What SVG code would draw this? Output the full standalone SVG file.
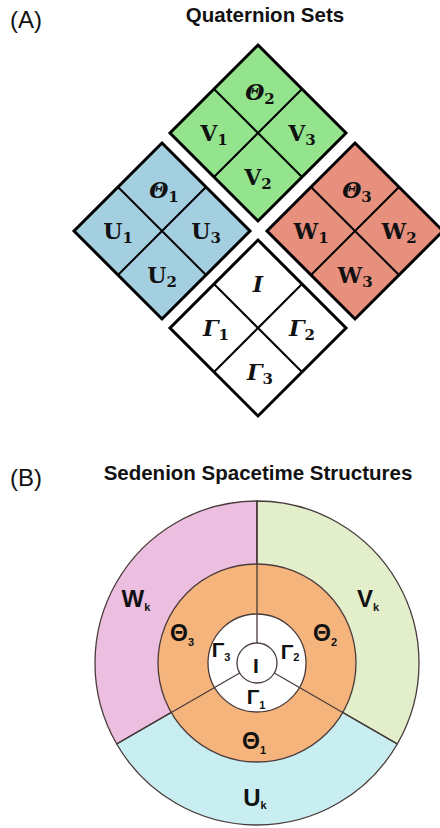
<svg xmlns="http://www.w3.org/2000/svg" width="440" height="828" viewBox="0 0 440 828">
<style>
.panel{font-family:"Liberation Sans",Arial,sans-serif;font-size:24px;fill:#111}
.title{font-family:"Liberation Sans",Arial,sans-serif;font-size:20.5px;font-weight:bold;fill:#111}
.dia{stroke:#000;stroke-width:3;stroke-linejoin:miter}
.div{stroke:#000;stroke-width:2;fill:none}
.ql{font-family:"DejaVu Serif","Liberation Serif",serif;font-size:22px;font-weight:bold;fill:#111;text-anchor:middle}
.it{font-style:italic}
.sub{font-size:15px;font-style:normal}
.ring{stroke:#4a3b3b;stroke-width:1.3}
.sl{font-family:"Liberation Sans",Arial,sans-serif;font-weight:bold;fill:#111;text-anchor:middle}
.sl .s{font-size:11px}
</style>

<text class="panel" x="10" y="28">(A)</text>
<text class="title" x="265" y="22" text-anchor="middle">Quaternion Sets</text>

<g id="V">
  <path class="dia" fill="#93e48d" d="M258,45 L346,133 L258,221 L170,133 Z"/>
  <path class="div" d="M214,89 L302,177 M302,89 L214,177"/>
  <text class="ql" x="260" y="100"><tspan class="it">Θ</tspan><tspan class="sub" dy="4">2</tspan></text>
  <text class="ql" x="214" y="141">V<tspan class="sub" dy="4">1</tspan></text>
  <text class="ql" x="302" y="141">V<tspan class="sub" dy="4">3</tspan></text>
  <text class="ql" x="258" y="185">V<tspan class="sub" dy="4">2</tspan></text>
</g>

<g id="U">
  <path class="dia" fill="#a4cfe0" d="M162,143 L250,231 L162,319 L74,231 Z"/>
  <path class="div" d="M118,187 L206,275 M206,187 L118,275"/>
  <text class="ql" x="164" y="198"><tspan class="it">Θ</tspan><tspan class="sub" dy="4">1</tspan></text>
  <text class="ql" x="118" y="239">U<tspan class="sub" dy="4">1</tspan></text>
  <text class="ql" x="206" y="239">U<tspan class="sub" dy="4">3</tspan></text>
  <text class="ql" x="162" y="283">U<tspan class="sub" dy="4">2</tspan></text>
</g>

<g id="W">
  <path class="dia" fill="#e6907d" d="M355,143 L443,231 L355,319 L267,231 Z"/>
  <path class="div" d="M311,187 L399,275 M399,187 L311,275"/>
  <text class="ql" x="357" y="198"><tspan class="it">Θ</tspan><tspan class="sub" dy="4">3</tspan></text>
  <text class="ql" x="311" y="239">W<tspan class="sub" dy="4">1</tspan></text>
  <text class="ql" x="399" y="239">W<tspan class="sub" dy="4">2</tspan></text>
  <text class="ql" x="355" y="283">W<tspan class="sub" dy="4">3</tspan></text>
</g>

<g id="Gamma">
  <path class="dia" fill="#ffffff" d="M258,240 L346,328 L258,416 L170,328 Z"/>
  <path class="div" d="M214,284 L302,372 M302,284 L214,372"/>
  <text class="ql it" x="258" y="292">I</text>
  <text class="ql" x="216" y="336"><tspan class="it">Γ</tspan><tspan class="sub" dy="4">1</tspan></text>
  <text class="ql" x="302" y="336"><tspan class="it">Γ</tspan><tspan class="sub" dy="4">2</tspan></text>
  <text class="ql" x="260" y="380"><tspan class="it">Γ</tspan><tspan class="sub" dy="4">3</tspan></text>
</g>

<text class="panel" x="10" y="486">(B)</text>
<text class="title" x="258" y="480" text-anchor="middle">Sedenion Spacetime Structures</text>

<g id="Wk">
  <path class="ring" fill="#ecbfe0" d="M257,663 L257,501 A162,162 0 0 0 116.7,744 Z"/>
</g>
<g id="Vk">
  <path class="ring" fill="#e3eecb" d="M257,663 L257,501 A162,162 0 0 1 397.3,744 Z"/>
</g>
<g id="Uk">
  <path class="ring" fill="#c8eef2" d="M257,663 L116.7,744 A162,162 0 0 0 397.3,744 Z"/>
</g>
<g id="Theta">
  <circle class="ring" cx="257" cy="663" r="99" fill="#f5b47b"/>
</g>
<g id="GammaRing">
  <circle class="ring" cx="257" cy="663" r="49" fill="#ffffff"/>
</g>
<g id="connectors">
  <path class="ring" fill="none" d="M257,643 L257,501 M239.7,673 L116.7,744 M274.3,673 L397.3,744"/>
</g>
<g id="Icore">
  <circle class="ring" cx="257" cy="663" r="20" fill="#ffffff"/>
  <text class="sl" x="256" y="673" font-size="21">I</text>
</g>

<text class="sl" x="136" y="607" font-size="24">W<tspan class="s" dy="4">k</tspan></text>
<text class="sl" x="368" y="607" font-size="24">V<tspan class="s" dy="4">k</tspan></text>
<text class="sl" x="182" y="641" font-size="23">Θ<tspan class="s" dy="5">3</tspan></text>
<text class="sl" x="325" y="641" font-size="23">Θ<tspan class="s" dy="5">2</tspan></text>
<text class="sl" x="221" y="657" font-size="21">Γ<tspan class="s" dy="4">3</tspan></text>
<text class="sl" x="290" y="659" font-size="21">Γ<tspan class="s" dy="2">2</tspan></text>
<text class="sl" x="256" y="704" font-size="21">Γ<tspan class="s" dy="5">1</tspan></text>
<text class="sl" x="254" y="749" font-size="23">Θ<tspan class="s" dy="5">1</tspan></text>
<text class="sl" x="255" y="806" font-size="24">U<tspan class="s" dy="3">k</tspan></text>
</svg>
